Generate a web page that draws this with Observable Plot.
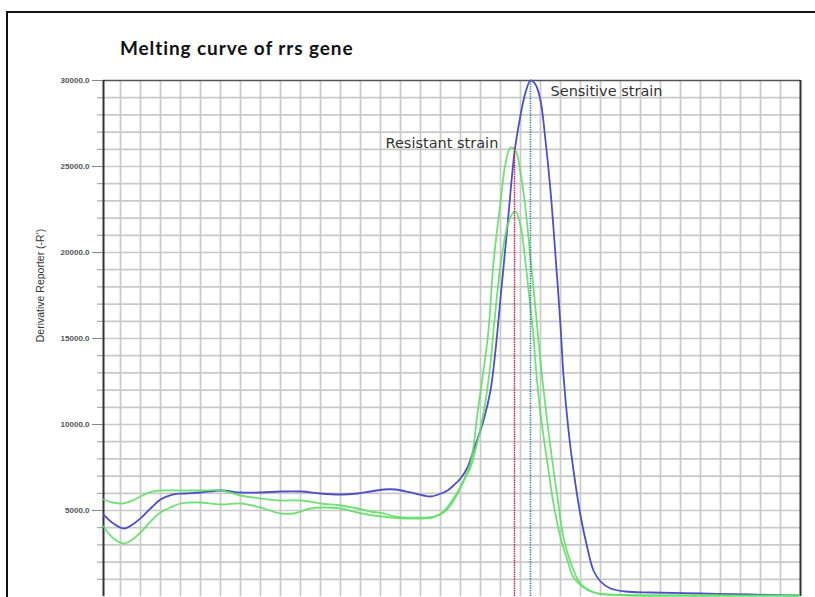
<!DOCTYPE html>
<html>
<head>
<meta charset="utf-8">
<script src="https://cdn.jsdelivr.net/npm/d3@7"></script>
<script src="https://cdn.jsdelivr.net/npm/@observablehq/plot@0.6"></script>
<style>
  html, body { margin: 0; padding: 0; background: #fff; overflow: hidden; }
  #wrap { position: relative; width: 815px; height: 597px; overflow: hidden; }
  #border { position: absolute; left: 6px; top: 11px; width: 900px; height: 900px;
            border-left: 2px solid #111; border-top: 2px solid #111; box-sizing: border-box; }
  #title { position: absolute; left: 120px; top: 36px; font-family: Lato, "Open Sans", sans-serif;
           font-weight: 700; font-size: 19px; letter-spacing: 0.9px; color: #111; white-space: nowrap; }
  #chart { position: absolute; left: 0; top: 0; }
</style>
</head>
<body>
<div id="wrap">
  <div id="border"></div>
  <div id="chart"></div>
  <div id="title">Melting curve of rrs gene</div>
</div>
<script>
// Temperature (°C, gridline every 1 °C) and derivative reporter values
const sensitiveT = [60.15,60.65,61.15,61.6,62.1,62.6,63.0,63.6,64.25,65.0,66.05,67.0,68.0,69.0,70.05,71.0,72.0,72.85,73.5,74.15,74.75,75.5,76.15,76.5,76.9,77.35,77.65,78.0,78.35,78.65,79.15,79.5,79.75,80.0,80.35,80.7,81.0,81.25,81.5,81.75,82.0,82.25,82.5,82.75,83.0,83.15,83.4,83.65,84.0,84.35,84.65,85.0,85.5,86.25,87.5,90.0,92.5,94.9];
const sensitiveV = [4767,4244,3953,4186,4651,5233,5640,5930,5988,6047,6163,6047,6047,6105,6105,5988,5930,5988,6105,6221,6221,6047,5872,5814,5930,6163,6454,6861,7500,8488,10233,11977,14302,17326,21570,25814,27965,29302,30000,29767,28837,26512,23605,19826,15756,12849,9651,7326,4709,2791,1512,872,465,291,233,174,116,58];

const resistantAT = [60.15,60.6,61.1,61.6,62.1,62.6,63.0,64.0,65.0,66.05,67.0,68.0,69.0,70.05,71.0,72.0,72.85,73.5,74.15,74.5,75.15,75.85,76.35,76.85,77.15,77.5,77.85,78.15,78.5,78.85,79.15,79.4,79.65,80.0,80.25,80.5,80.75,81.0,81.25,81.5,81.75,81.85,82.1,82.5,82.85,83.15,83.6,84.0,84.85,86.0,90.0,94.9];
const resistantAV = [5640,5465,5407,5581,5872,6105,6163,6163,6163,6163,5872,5698,5581,5581,5407,5291,5116,4942,4826,4709,4593,4593,4593,4709,4884,5291,5988,6744,7733,10640,13140,15465,19419,22907,25175,26105,25930,24651,22558,19651,16744,15465,12558,8663,5756,3430,1686,756,174,87,58,58];

const resistantBT = [60.15,60.65,61.15,61.6,62.1,62.6,63.0,63.5,64.0,64.5,65.0,66.05,67.0,68.0,69.0,69.65,70.5,71.15,72.0,72.85,73.65,74.5,75.35,76.15,76.65,77.1,77.4,77.75,78.1,78.5,78.65,79.15,79.5,79.65,80.0,80.35,80.6,80.75,81.0,81.25,81.5,81.65,81.75,82.0,82.35,82.65,83.0,83.35,83.65,84.15,84.65,86.0,90.0,94.9];
const resistantBV = [4070,3372,3081,3314,3837,4477,4884,5174,5407,5465,5465,5349,5407,5174,4826,4826,5116,5174,5116,4884,4709,4593,4535,4535,4593,4884,5291,5872,6570,7500,8081,10640,13547,15465,19244,21570,22267,22384,21570,19419,16744,15174,13547,10640,7733,5407,3430,2093,1105,523,233,87,58,58];

const yMajorTicks = [5000,10000,15000,20000,25000,30000];
const yMinorTicks = d3.range(1000, 30001, 1000);
const xGridTemps = d3.range(61, 95, 1);

const markerLines = [
  {name: "Resistant Tm", t: 80.7, lo: 0, hi: 26100},
  {name: "Sensitive Tm", t: 81.5, lo: 0, hi: 30000}
];
const labels = [
  {text: "Sensitive strain", t: 82.5, v: 29360},
  {text: "Resistant strain", t: 74.25, v: 26330}
];
const yLabel = "Derivative Reporter (-R')";

const sensitive = d3.zip(sensitiveT, sensitiveV).map(([t, v]) => ({t, v}));
const resA = d3.zip(resistantAT, resistantAV).map(([t, v]) => ({t, v}));
const resB = d3.zip(resistantBT, resistantBV).map(([t, v]) => ({t, v}));

const blue = "#4e4ec6";
const green = "#62de68";

const chart = Plot.plot({
  width: 815,
  height: 640,
  marginLeft: 103,
  marginRight: 15,
  marginTop: 80,
  marginBottom: 44,
  style: {background: "transparent", overflow: "visible"},
  x: {domain: [60.15, 95], axis: null},
  y: {domain: [0, 30000], axis: null},
  marks: [
    Plot.ruleX(xGridTemps, {stroke: "#c9c9c9", strokeWidth: 1.7}),
    Plot.ruleY(yMinorTicks.filter(d => d < 30000), {stroke: "#c9c9c9", strokeWidth: 1.7}),
    Plot.axisY({ticks: yMinorTicks, tickSize: 6, text: null, stroke: "#999"}),
    Plot.axisY({ticks: yMajorTicks, tickSize: 11, tickPadding: 3, stroke: "#888",
                tickFormat: d => d.toFixed(1), fontSize: 8, fontWeight: "bold",
                fill: "#555", fontFamily: "Arial, 'Liberation Sans', sans-serif", label: null}),
    Plot.text([yLabel], {frameAnchor: "left", y: () => 18080, dx: -63, rotate: -90, textAnchor: "middle",
                fontSize: 10.5, fill: "#333", fontFamily: "Arial, 'Liberation Sans', sans-serif"}),
    Plot.ruleY([30000], {stroke: "#555", strokeWidth: 1.5}),
    Plot.ruleX([60.15], {stroke: "#333", strokeWidth: 2}),
    Plot.ruleX([95], {stroke: "#333", strokeWidth: 2}),
    Plot.line(sensitive, {x: "t", y: "v", stroke: blue, strokeWidth: 1.8, curve: "catmull-rom"}),
    Plot.line(resA, {x: "t", y: "v", stroke: green, strokeWidth: 1.8, strokeOpacity: 0.9, curve: "catmull-rom"}),
    Plot.line(resB, {x: "t", y: "v", stroke: green, strokeWidth: 1.8, strokeOpacity: 0.9, curve: "catmull-rom"}),
    Plot.ruleX(markerLines.slice(0, 1), {x: "t", y1: "lo", y2: "hi", stroke: "#d3145a", strokeWidth: 1.4, strokeDasharray: "1.5,0.8"}),
    Plot.ruleX(markerLines.slice(1), {x: "t", y1: "lo", y2: "hi", stroke: "#2c6e9c", strokeWidth: 1.6, strokeDasharray: "1.2,1.2"}),
    Plot.text(labels, {x: "t", y: "v", text: "text", textAnchor: "start", fontSize: 14.5,
                fill: "#333", fontFamily: "'DejaVu Sans', 'Open Sans', sans-serif"})
  ]
});
document.getElementById("chart").appendChild(chart);
</script>
</body>
</html>
